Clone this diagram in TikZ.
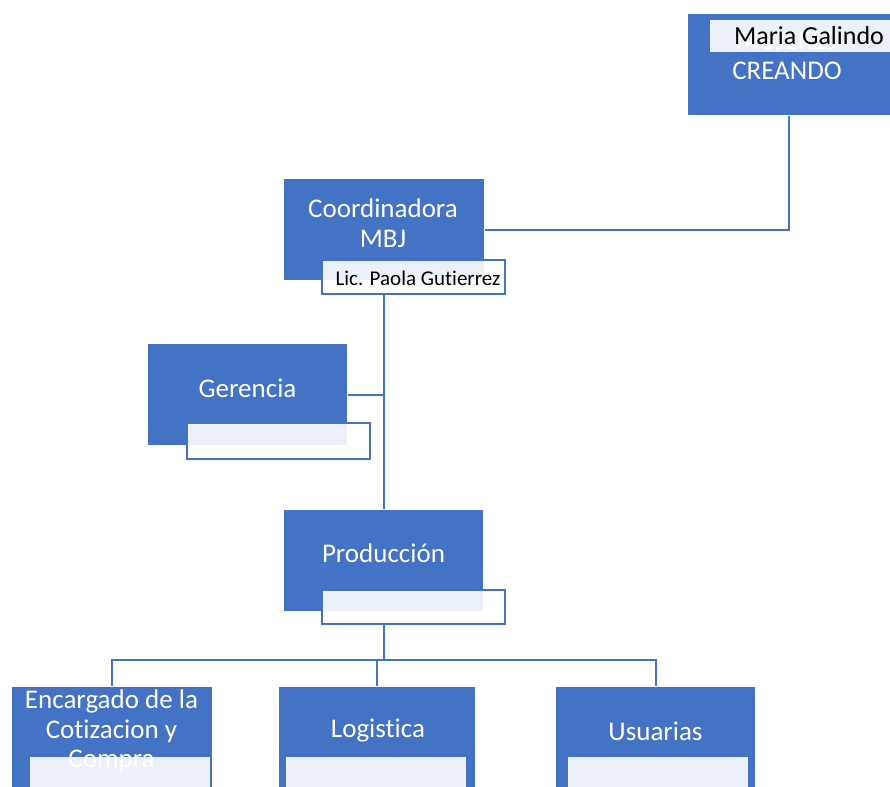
\documentclass[tikz,border=0pt]{standalone}
\usepackage{fontspec}
\setmainfont{Carlito}[Ligatures = NoCommon]
\definecolor{boxblue}{HTML}{4472C4}

\begin{document}
\begin{tikzpicture}[x = 1pt, y = -1pt, line width = 2pt,
                        unit/.style = {rectangle, fill = boxblue, inner sep = 0pt, minimum width = 200pt, minimum height = 101pt},
                        tag/.style = {rectangle, draw = boxblue, fill = white, fill opacity = 0.9, inner sep = 0pt, minimum width = 183pt, minimum height = 34pt},
                        caption/.style = {text = white, align = center, inner sep = 0pt, font = \fontsize{27}{29.5}\selectfont},
                        tagtext/.style = {text = black, inner sep = 0pt, font = \fontsize{21}{24}\selectfont},
                        link/.style = {draw = boxblue}]
      \useasboundingbox (0, 0) rectangle (890, 786);
      \clip (0, 0) rectangle (890, 786);
      \node [unit, minimum width = 202pt] (mujeres) at (789, 64.5){};
      \node [caption] (mujerest) at (787, 56){MUJERES\\CREANDO};
      \node [tag, minimum height = 32pt, draw = none] (galindo) at (801.5, 36){};
      \node [tagtext, font = \fontsize{26}{30}\selectfont] (galindot) at (809, 36){Maria Galindo};
      \node [unit] (coord) at (384, 229.5){};
      \node [caption] (coordt) at (383, 223){Coordinadora\\MBJ};
      \node [tag] (paola) at (413.5, 277){};
      \node [tagtext] (paolat) at (418, 278){Lic. Paola Gutierrez};
      \node [unit, minimum width = 199pt] (ger) at (247.5, 394.5){};
      \node [caption] (gert) at (247.5, 388){Gerencia};
      \node [tag, minimum height = 36pt] (gertag) at (278, 441){};
      \node [unit, minimum width = 199pt] (prod) at (383.5, 560.5){};
      \node [caption] (prodt) at (383.5, 553){Producción};
      \node [tag] (prodtag) at (413.5, 607){};
      \node [unit] (enc) at (112, 737.5){};
      \node [caption] (enct) at (111.5, 731){Encargado de la\\Cotizacion y\\Compra};
      \node [tag, draw = none, minimum width = 180pt] (enctag) at (120, 774){};
      \node [unit, minimum width = 196pt] (log) at (377, 737.5){};
      \node [caption] (logt) at (378, 731){Logistica};
      \node [tag, draw = none, minimum width = 180pt] (logtag) at (376, 774){};
      \node [unit, minimum width = 199pt] (usu) at (655.5, 737.5){};
      \node [caption] (usut) at (655.5, 731){Usuarias};
      \node [tag, draw = none, minimum width = 180pt] (usutag) at (658, 774){};
      \coordinate (bus) at (383.5, 660);
      \draw [link] (mujeres.south) |- (coord.east);
      \draw [link] (prod.north |- paola.south) -- (prod.north);
      \draw [link] (ger.east) -- (ger.east -| prod.north);
      \draw [link] (prodtag.south -| prod.south) -- (bus);
      \draw [link] (enc.north) |- (bus) -| (usu.north);
      \draw [link] (log.north) |- (bus);
    \end{tikzpicture}
\end{document}
